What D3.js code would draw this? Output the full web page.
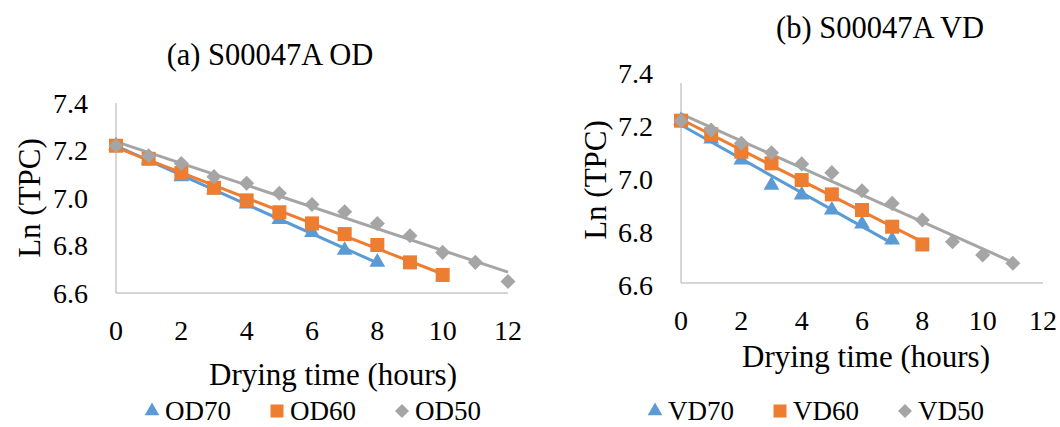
<!DOCTYPE html>
<html>
<head>
<meta charset="utf-8">
<script src="https://cdn.jsdelivr.net/npm/d3@7"></script>
<style>
  html, body { margin: 0; padding: 0; background: #fff; }
  text { font-family: "Liberation Serif", "Times New Roman", "DejaVu Serif", serif; fill: #000; }
</style>
</head>
<body>
<svg id="chart" width="1060" height="427"></svg>
<script>
// ---------- data ----------
const yTicks = [6.6, 6.8, 7.0, 7.2, 7.4];
const xTicks = [0, 2, 4, 6, 8, 10, 12];

// (a) oven drying
const od70 = [7.22, 7.16, 7.09, 7.035, 6.975, 6.91, 6.855, 6.78, 6.73];
const od60 = [7.22, 7.165, 7.105, 7.043, 6.99, 6.94, 6.893, 6.848, 6.802, 6.729, 6.676];
const od50 = [7.22, 7.178, 7.145, 7.09, 7.062, 7.02, 6.973, 6.942, 6.893, 6.841, 6.771, 6.729, 6.648];

// (b) vacuum drying
const vd70 = [7.22, 7.151, 7.072, 6.977, 6.94, 6.883, 6.83, 6.77];
const vd60 = [7.22, 7.169, 7.103, 7.059, 6.996, 6.942, 6.883, 6.82, 6.753];
const vd50 = [7.22, 7.185, 7.135, 7.099, 7.057, 7.024, 6.956, 6.908, 6.845, 6.763, 6.713, 6.682];

const COLORS = { t70: "#5b9bd5", t60: "#ed7d31", t50: "#a5a5a5" };
const FONT = "Liberation Serif, Times New Roman, serif";

// ---------- helpers ----------
const svg = d3.select("#chart");

// least squares trendline (Excel style linear trend)
function trend(vals) {
  const n = vals.length;
  const xs = vals.map((_, i) => i);
  const mx = d3.mean(xs), my = d3.mean(vals);
  let num = 0, den = 0;
  xs.forEach((x, i) => { num += (x - mx) * (vals[i] - my); den += (x - mx) * (x - mx); });
  const b = num / den, a = my - b * mx;
  return [[0, a], [n - 1, a + b * (n - 1)]];
}

function marker(g, shape, color, size) {
  if (shape === "triangle") {
    g.append("path").attr("d", d3.symbol(d3.symbolTriangle, size * size * 0.55)())
      .attr("fill", color);
  } else if (shape === "square") {
    g.append("rect").attr("x", -size / 2).attr("y", -size / 2)
      .attr("width", size).attr("height", size).attr("fill", color);
  } else {
    g.append("rect").attr("x", -size * 0.38).attr("y", -size * 0.38)
      .attr("width", size * 0.76).attr("height", size * 0.76)
      .attr("transform", "rotate(45)").attr("fill", color);
  }
}

function txt(g, size) {
  return g.append("text").attr("font-family", FONT).style("font-size", size + "px");
}

function drawPanel(cfg) {
  const x = d3.scaleLinear().domain([0, 12]).range([cfg.x0, cfg.x1]);
  const y = d3.scaleLinear().domain([6.6, 7.4]).range([cfg.yBottom, cfg.yTop]);
  const g = svg.append("g");

  // title
  txt(g, 30.5).attr("x", cfg.titleX).attr("y", cfg.titleY)
    .attr("text-anchor", "middle").text(cfg.title);

  // axis lines
  g.append("line").attr("x1", cfg.x0).attr("x2", cfg.x0)
    .attr("y1", cfg.axisTop).attr("y2", cfg.axisY)
    .attr("stroke", "#c8c8c8").attr("stroke-width", 1.5);
  g.append("line").attr("x1", cfg.x0).attr("x2", cfg.x1)
    .attr("y1", cfg.axisY).attr("y2", cfg.axisY)
    .attr("stroke", "#c8c8c8").attr("stroke-width", 1.5);

  // tick labels
  yTicks.forEach(d => {
    txt(g, 28).attr("x", cfg.x0 - 28).attr("y", y(d)).attr("dy", "0.35em")
      .attr("text-anchor", "end").text(d3.format(".1f")(d));
  });
  xTicks.forEach(d => {
    txt(g, 28).attr("x", x(d)).attr("y", cfg.axisY + 47)
      .attr("text-anchor", "middle").text(d);
  });

  // axis titles
  txt(g, 31).attr("x", cfg.xTitleX).attr("y", cfg.xTitleY)
    .attr("text-anchor", "middle").text("Drying time (hours)");
  txt(g, 31)
    .attr("transform", `translate(${cfg.yTitleX},${cfg.yTitleY}) rotate(-90)`)
    .attr("text-anchor", "middle").text("Ln (TPC)");

  // series: trendline + markers
  const line = d3.line().x(d => x(d[0])).y(d => y(d[1]));
  cfg.series.forEach(s => {
    g.append("path").attr("d", line(trend(s.values)))
      .attr("fill", "none").attr("stroke", s.color).attr("stroke-width", 3);
  });
  cfg.series.forEach(s => {
    s.values.forEach((v, i) => {
      const m = g.append("g").attr("transform", `translate(${x(i)},${y(v)})`);
      marker(m, s.shape, s.color, 14);
    });
  });

  // legend
  const lg = g.append("g").attr("transform", `translate(${cfg.legendX},${cfg.legendY})`);
  let off = 0;
  cfg.series.forEach(s => {
    const m = lg.append("g").attr("transform", `translate(${off + 8},-9)`);
    marker(m, s.shape, s.color, 13);
    const t = txt(lg, 27).attr("x", off + 21).attr("y", 0).text(s.name);
    off += 21 + t.node().getComputedTextLength() + 38;
  });
}

drawPanel({
  title: "(a) S00047A OD", titleX: 270, titleY: 65,
  x0: 116, x1: 508, yTop: 103, yBottom: 293, axisTop: 103, axisY: 293,
  xTitleX: 333, xTitleY: 385,
  yTitleX: 40, yTitleY: 198,
  legendX: 144, legendY: 420,
  series: [
    { name: "OD70", values: od70, color: COLORS.t70, shape: "triangle" },
    { name: "OD60", values: od60, color: COLORS.t60, shape: "square" },
    { name: "OD50", values: od50, color: COLORS.t50, shape: "diamond" },
  ],
});

drawPanel({
  title: "(b) S00047A VD", titleX: 880, titleY: 38,
  x0: 681, x1: 1043, yTop: 73, yBottom: 285, axisTop: 83, axisY: 283,
  xTitleX: 866, xTitleY: 367,
  yTitleX: 606, yTitleY: 180,
  legendX: 647, legendY: 420,
  series: [
    { name: "VD70", values: vd70, color: COLORS.t70, shape: "triangle" },
    { name: "VD60", values: vd60, color: COLORS.t60, shape: "square" },
    { name: "VD50", values: vd50, color: COLORS.t50, shape: "diamond" },
  ],
});
</script>
</body>
</html>
